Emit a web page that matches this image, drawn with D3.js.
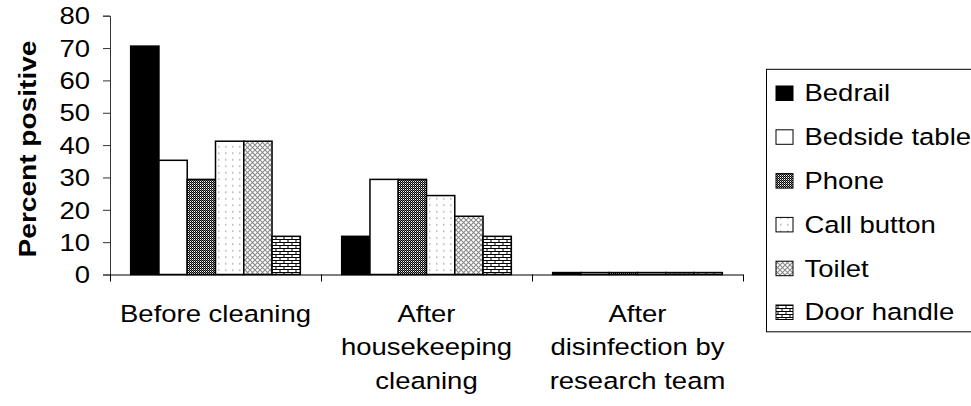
<!DOCTYPE html>
<html>
<head>
<meta charset="utf-8">
<script src="https://cdn.jsdelivr.net/npm/d3@7"></script>
<style>
  body { margin: 0; background: #fff; }
  text { font-family: "Liberation Sans", Arial, sans-serif; fill: #000; }
</style>
</head>
<body>
<div id="chart"></div>
<script>
// data
var categories = ["Before cleaning", "After housekeeping cleaning", "After disinfection by research team"];
var catLines = [["Before cleaning"], ["After", "housekeeping", "cleaning"], ["After", "disinfection by", "research team"]];
var series = ["Bedrail", "Bedside table", "Phone", "Call button", "Toilet", "Door handle"];
var bedrail = [70.6, 11.8, 0.6];
var bedsideTable = [35.3, 29.4, 0.6];
var phone = [29.4, 29.4, 0.6];
var callButton = [41.2, 24.4, 0.6];
var toilet = [41.2, 18, 0.6];
var doorHandle = [11.8, 11.8, 0.6];
var values = [bedrail, bedsideTable, phone, callButton, toilet, doorHandle];
var yTicks = [0, 10, 20, 30, 40, 50, 60, 70, 80];

var W = 971, H = 406;
var SX = 1.17; // glyphs in the picture are wider than Arial
var plotLeft = 110, plotRight = 743, plotTop = 15.7, plotBottom = 274.5;

var svg = d3.select("#chart").append("svg")
    .attr("width", W).attr("height", H);

// fill patterns
var defs = svg.append("defs");
function pat(id, w, h) {
  var p = defs.append("pattern").attr("id", id)
    .attr("patternUnits", "userSpaceOnUse").attr("width", w).attr("height", h);
  p.append("rect").attr("width", w).attr("height", h).attr("fill", "#fff");
  return p;
}
var p1 = pat("phone", 2, 2);
p1.append("rect").attr("x", 0).attr("y", 0).attr("width", 1).attr("height", 1).attr("fill", "#000");
p1.append("rect").attr("x", 1).attr("y", 1).attr("width", 1).attr("height", 1).attr("fill", "#000");
p1.append("rect").attr("x", 1).attr("y", 0).attr("width", 1).attr("height", 1).attr("fill", "#777");

var p2 = pat("call", 7, 6.5);
p2.append("rect").attr("x", 3).attr("y", 3).attr("width", 1.5).attr("height", 1.5).attr("fill", "#b0b0b0");

var p3 = pat("toilet", 5, 5);
p3.append("path").attr("d", "M0,0L5,5M5,0L0,5").attr("stroke", "#8a8a8a").attr("stroke-width", 1.1);

var p4 = pat("door", 8, 6);
p4.append("path").attr("d", "M0,5.5H8M2,0V3M6,2.5V5.5M0,2.5H8")
  .attr("stroke", "#000").attr("stroke-width", 1).attr("fill", "none");

var fills = ["#000", "#fff", "url(#phone)", "url(#call)", "url(#toilet)", "url(#door)"];

// scales
var x0 = d3.scaleBand().domain(categories).range([plotLeft, plotRight]);
var bw = x0.bandwidth();
var x1 = d3.scaleBand().domain(series).range([bw * 0.098, bw * 0.902]);
var y = d3.scaleLinear().domain([0, 80]).range([plotBottom, plotTop]);

// bars
var groups = svg.selectAll("g.grp").data(categories).enter().append("g")
  .attr("class", "grp")
  .attr("transform", function(c) { return "translate(" + x0(c) + ",0)"; });
groups.selectAll("rect").data(function(c, ci) {
    return series.map(function(s, si) { return {s: s, si: si, v: values[si][ci]}; });
  }).enter().append("rect")
  .attr("x", function(d) { return x1(d.s); })
  .attr("y", function(d) { return y(d.v); })
  .attr("width", x1.bandwidth())
  .attr("height", function(d) { return plotBottom - y(d.v); })
  .attr("fill", function(d) { return fills[d.si]; })
  .attr("stroke", "#000")
  .attr("stroke-width", 1.5);

// y axis
var yAxis = svg.append("g")
  .attr("transform", "translate(" + plotLeft + ",0)")
  .call(d3.axisLeft(y).tickValues(yTicks).tickSize(7).tickSizeOuter(7));
yAxis.select(".domain").attr("stroke", "#333");
yAxis.selectAll(".tick line").attr("stroke", "#333");
yAxis.selectAll(".tick text")
  .attr("x", -20 / SX)
  .attr("dy", "0.35em")
  .attr("transform", "scale(" + SX + ",1)")
  .style("font-size", "23.5px")
  .style("font-family", "'Liberation Sans', Arial, sans-serif");

// x axis: ticks sit between the groups
var xb = d3.scaleLinear().domain([0, 3]).range([plotLeft, plotRight]);
var xAxis = svg.append("g")
  .attr("transform", "translate(0," + plotBottom + ")")
  .call(d3.axisBottom(xb).tickValues([0, 1, 2, 3]).tickFormat("").tickSize(7).tickSizeOuter(0));
xAxis.select(".domain").attr("stroke", "#000");
xAxis.selectAll(".tick line").attr("stroke", "#000");

// category labels
categories.forEach(function(c, i) {
  var t = svg.append("text")
    .attr("transform", "translate(" + (x0(c) + bw / 2) + ",321.7) scale(" + SX + ",1)")
    .attr("text-anchor", "middle")
    .style("font-size", "23.5px");
  catLines[i].forEach(function(l, j) {
    t.append("tspan").attr("x", 0).attr("y", j * 33.5).text(l);
  });
});

// y label
svg.append("text")
  .attr("transform", "translate(36,149) rotate(-90) scale(" + SX + ",1)")
  .attr("text-anchor", "middle")
  .style("font-size", "24px")
  .style("font-weight", "bold")
  .text("Percent positive");

// legend
var lg = svg.append("g");
lg.append("rect")
  .attr("x", 766.5).attr("y", 69.3)
  .attr("width", 230).attr("height", 262.5)
  .attr("fill", "#fff").attr("stroke", "#000").attr("stroke-width", 1);
var ly = d3.scalePoint().domain(series).range([93, 312]);
series.forEach(function(s, i) {
  lg.append("rect")
    .attr("x", 776).attr("y", ly(s) - 7)
    .attr("width", 17).attr("height", 14.5)
    .attr("fill", fills[i]).attr("stroke", "#000").attr("stroke-width", 1);
  lg.append("text")
    .attr("transform", "translate(804.5," + (ly(s) + 8.4) + ") scale(" + SX + ",1)")
    .style("font-size", "23.5px")
    .text(s);
});
</script>
</body>
</html>
